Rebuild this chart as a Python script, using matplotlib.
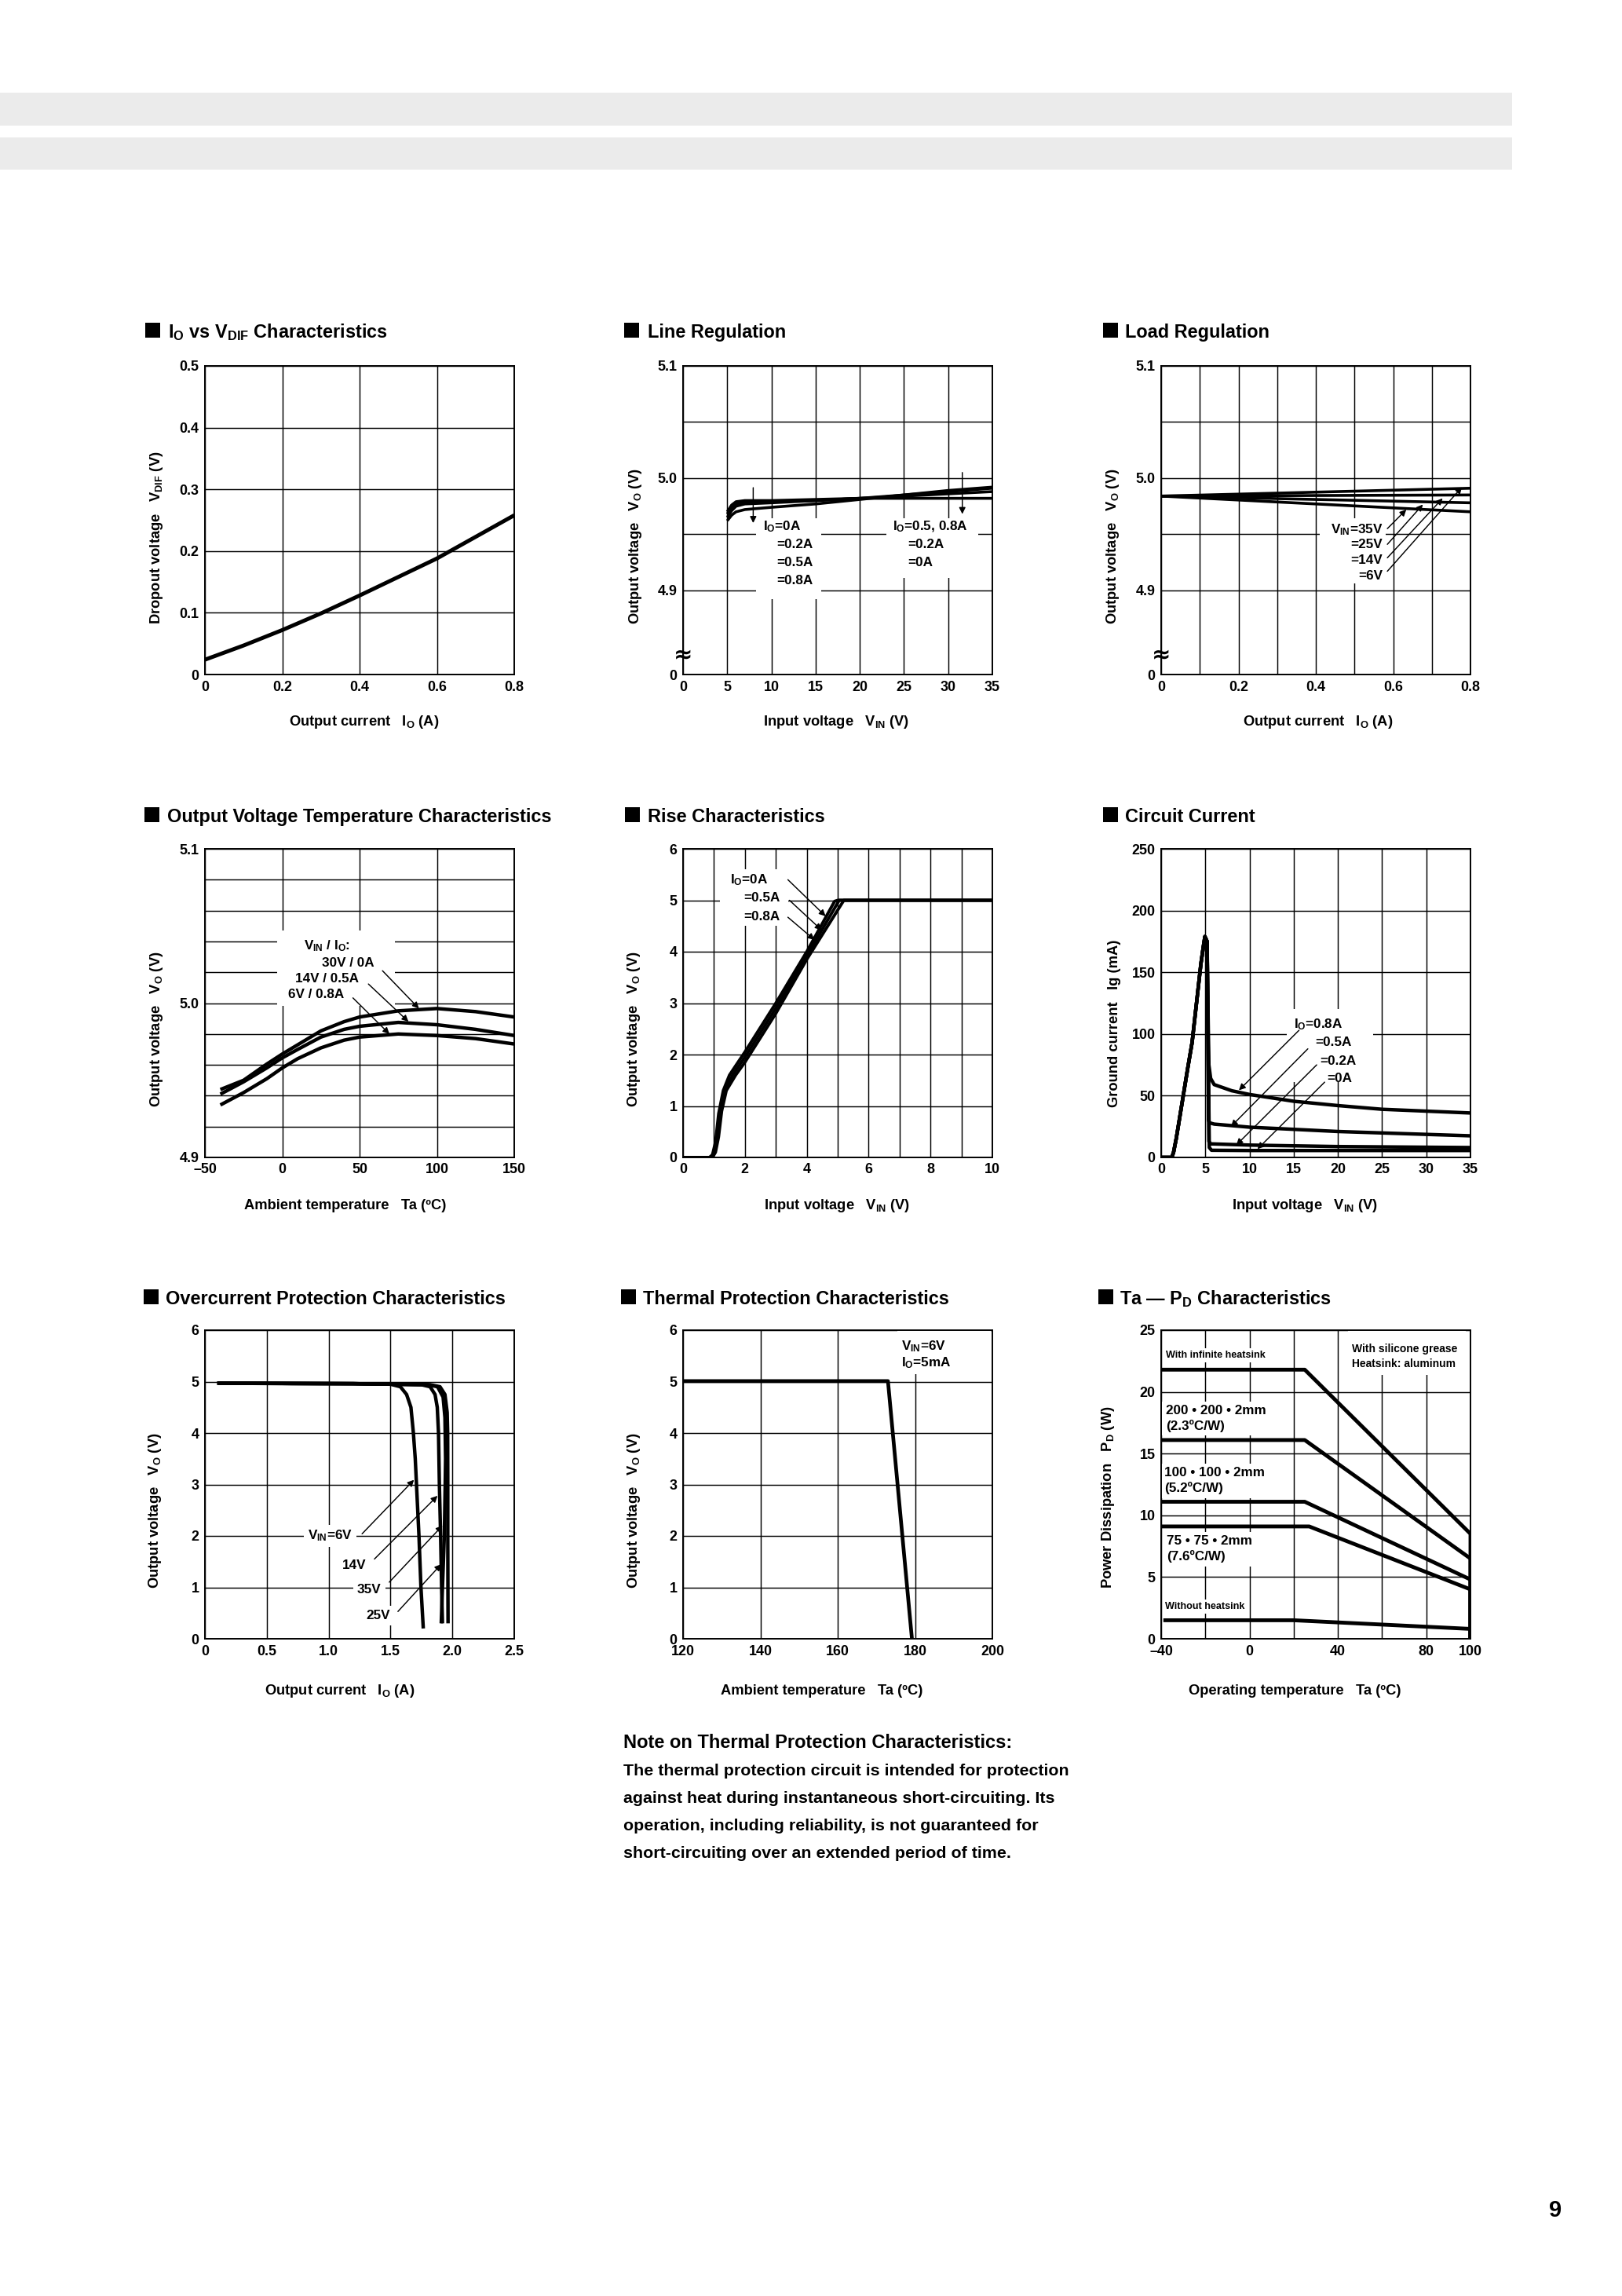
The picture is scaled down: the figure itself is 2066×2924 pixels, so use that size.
#!/usr/bin/env python3

import matplotlib
matplotlib.use('Agg')
import matplotlib.pyplot as plt
from matplotlib.patches import Rectangle
from matplotlib import font_manager

W, H = 2066, 2924
DPI = 100

# ---------------------------------------------------------------- data

# Io vs VDIF
DROP_IO = [0.0, 0.1, 0.2, 0.3, 0.4, 0.5, 0.6, 0.7, 0.8]
DROP_VDIF = [0.024, 0.047, 0.072, 0.099, 0.128, 0.158, 0.188, 0.223, 0.258]

# Line regulation
LINE_VIN = [5, 5.5, 6, 7, 10, 15, 20, 25, 30, 35]
LINE_VO_0A = [4.970, 4.976, 4.979, 4.980, 4.980, 4.981, 4.982, 4.982, 4.982, 4.982]
LINE_VO_02A = [4.968, 4.974, 4.977, 4.979, 4.979, 4.980, 4.982, 4.984, 4.986, 4.988]
LINE_VO_05A = [4.965, 4.971, 4.975, 4.977, 4.978, 4.980, 4.982, 4.985, 4.988, 4.991]
LINE_VO_08A = [4.962, 4.967, 4.970, 4.972, 4.974, 4.977, 4.981, 4.985, 4.989, 4.992]

# Load regulation
LOAD_IO = [0.0, 0.4, 0.8]
LOAD_VO_6V = [4.984, 4.9875, 4.991]
LOAD_VO_14V = [4.984, 4.9845, 4.985]
LOAD_VO_25V = [4.984, 4.981, 4.978]
LOAD_VO_35V = [4.984, 4.977, 4.970]

# Output voltage temperature characteristics
TEMP_TA = [-40, -25, -10, 0, 10, 25, 40, 50, 75, 100, 125, 150]
TEMP_VO_30V = [4.944, 4.950, 4.9605, 4.967, 4.973, 4.982, 4.988, 4.991, 4.995, 4.9965, 4.9945, 4.991]
TEMP_VO_14V = [4.941, 4.949, 4.958, 4.9645, 4.970, 4.978, 4.983, 4.985, 4.9875, 4.986, 4.983, 4.979]
TEMP_VO_6V = [4.934, 4.942, 4.951, 4.958, 4.964, 4.971, 4.976, 4.978, 4.980, 4.979, 4.977, 4.9735]

# Rise characteristics
RISE_VIN_0A = [0, 0.85, 0.95, 1.05, 1.15, 1.3, 1.5, 2, 3, 4, 4.9, 5.0, 10]
RISE_VO_0A = [0, 0, 0.05, 0.3, 0.85, 1.3, 1.6, 2.05, 3.0, 4.0, 4.98, 5.0, 5.0]
RISE_VIN_05A = [0, 0.9, 1.0, 1.1, 1.2, 1.35, 1.6, 2, 3, 4, 5.05, 10]
RISE_VO_05A = [0, 0, 0.1, 0.4, 0.9, 1.3, 1.6, 1.95, 2.9, 3.92, 5.0, 5.0]
RISE_VIN_08A = [0, 0.95, 1.05, 1.15, 1.25, 1.4, 1.7, 2, 3, 4, 5.2, 10]
RISE_VO_08A = [0, 0, 0.1, 0.4, 0.9, 1.3, 1.6, 1.85, 2.8, 3.85, 5.0, 5.0]

# Circuit current (common rise, then one tail per load)
CIRC_RISE_VIN = [0, 1.2, 1.4, 1.7, 2.0, 2.5, 3.0, 3.5, 4.0, 4.5, 4.8, 4.95]
CIRC_RISE_IG = [0, 0, 4, 15, 28, 50, 72, 93, 125, 157, 172, 179]
CIRC_VIN_08A = [5.2, 5.3, 5.4, 5.6, 6, 8, 10, 15, 20, 25, 30, 35]
CIRC_IG_08A = [175, 120, 75, 64, 59, 54, 51, 45.5, 42, 39, 37.5, 36]
CIRC_VIN_05A = [5.2, 5.3, 5.35, 5.5, 6, 10, 20, 35]
CIRC_IG_05A = [175, 100, 30, 28, 27, 24.5, 21, 17.5]
CIRC_VIN_02A = [5.2, 5.3, 5.4, 5.6, 10, 20, 35]
CIRC_IG_02A = [175, 100, 13, 11, 10, 8.8, 8]
CIRC_VIN_0A = [5.2, 5.3, 5.45, 5.7, 10, 35]
CIRC_IG_0A = [175, 100, 8, 5.8, 5.6, 5.6]

# Overcurrent protection
OC_IO_6V = [0.1, 0.7, 1.2, 1.5, 1.58, 1.63, 1.665, 1.685, 1.7, 1.71, 1.73, 1.746, 1.765]
OC_VO_6V = [4.97, 4.96, 4.96, 4.95, 4.9, 4.75, 4.5, 4.0, 3.5, 3.0, 2.0, 1.0, 0.2]
OC_IO_14V = [0.1, 1.2, 1.75, 1.82, 1.86, 1.878, 1.888, 1.895, 1.905, 1.913, 1.92]
OC_VO_14V = [4.97, 4.96, 4.94, 4.9, 4.75, 4.5, 4.0, 3.0, 2.0, 1.0, 0.3]
OC_IO_25V = [0.1, 1.2, 1.8, 1.88, 1.925, 1.94, 1.945, 1.942, 1.935, 1.92, 1.91]
OC_VO_25V = [4.97, 4.96, 4.94, 4.9, 4.7, 4.3, 3.5, 3.0, 2.0, 1.0, 0.3]
OC_IO_35V = [0.1, 1.2, 1.82, 1.9, 1.94, 1.958, 1.962, 1.963, 1.963, 1.964, 1.965]
OC_VO_35V = [4.97, 4.96, 4.94, 4.9, 4.75, 4.4, 4.0, 3.0, 2.0, 1.0, 0.3]

# Thermal protection
THERM_TA = [120, 173, 179.2]
THERM_VO = [5.01, 5.01, 0]

# Ta - PD
PD_TA_INF = [-40, 25, 100, 100]
PD_W_INF = [21.8, 21.8, 8.5, 0]
PD_TA_200 = [-40, 25, 100, 100]
PD_W_200 = [16.1, 16.1, 6.5, 0]
PD_TA_100 = [-40, 25, 100, 100]
PD_W_100 = [11.1, 11.1, 4.8, 0]
PD_TA_75 = [-40, 27, 100, 100]
PD_W_75 = [9.1, 9.1, 4.0, 0]
PD_TA_NONE = [-39, 20, 100, 100]
PD_W_NONE = [1.5, 1.5, 0.8, 0]

NOTE_TITLE = "Note on Thermal Protection Characteristics:"
NOTE_LINES = [
    "The thermal protection circuit is intended for protection",
    "against heat during instantaneous short-circuiting. Its",
    "operation, including reliability, is not guaranteed for",
    "short-circuiting over an extended period of time.",
]

TITLES = [
    r"I$_\mathrm{O}$ vs V$_\mathrm{DIF}$ Characteristics",
    "Line Regulation",
    "Load Regulation",
    "Output Voltage Temperature Characteristics",
    "Rise Characteristics",
    "Circuit Current",
    "Overcurrent Protection Characteristics",
    "Thermal Protection Characteristics",
    r"Ta — P$_\mathrm{D}$ Characteristics",
]

VO_LABEL = r"Output voltage   V$_\mathrm{O}$ (V)"
IO_LABEL = r"Output current   I$_\mathrm{O}$ (A)"
VIN_LABEL = r"Input voltage   V$_\mathrm{IN}$ (V)"
TA_LABEL = "Ambient temperature   Ta (ºC)"

# ---------------------------------------------------------------- layout

AX_LEFT = [261, 870, 1479]
AX_TOP = [466, 1081, 1694]
AX_W, AX_H = 394, 393
TITLE_SQ_X = [185, 795, 1405, 184, 796, 1405, 183, 791, 1399]
TITLE_TX_X = [214, 825, 1433, 213, 825, 1433, 211, 819, 1426]
TITLE_BASE = [430, 1047, 1661]
SQ = 19
XLABEL_DROP = [61, 62, 66]
XLABEL_SHIFT = [6, -2, 3, -18, -1, -14, -25, -20, -27]
YLABEL_GAP = [62, 61, 61, 62, 62, 59, 64, 62, 67]
YLABEL_RISE = 64

TITLE_FS = 16.9
TICK_FS = 12.9
AXLABEL_FS = 13.2
LFS = 12.3

_names = {f.name for f in font_manager.fontManager.ttflist}
NARROW = 'Liberation Sans Narrow' if 'Liberation Sans Narrow' in _names else None

plt.rcParams['font.family'] = ['Liberation Sans', 'DejaVu Sans']
plt.rcParams['font.weight'] = 'bold'
plt.rcParams['mathtext.fontset'] = 'custom'
plt.rcParams['mathtext.rm'] = 'Liberation Sans:bold'
plt.rcParams['mathtext.it'] = 'Liberation Sans:bold'
plt.rcParams['mathtext.bf'] = 'Liberation Sans:bold'
plt.rcParams['mathtext.sf'] = 'Liberation Sans:bold'


def fy(y):
    return 1 - y / H


def make_axes(fig, idx):
    row, col = divmod(idx, 3)
    left, top = AX_LEFT[col], AX_TOP[row]
    ax = fig.add_axes([left / W, fy(top + AX_H), AX_W / W, AX_H / H])
    # title with black square
    base = TITLE_BASE[row]
    fig.add_artist(Rectangle((TITLE_SQ_X[idx] / W, fy(base)), SQ / W, SQ / H,
                             transform=fig.transFigure, facecolor='black',
                             edgecolor='none'))
    fig.text(TITLE_TX_X[idx] / W, fy(base), TITLES[idx], ha='left',
             va='baseline', fontsize=TITLE_FS)
    return ax


def style(ax, xlim, ylim, xt, xtl, yt, ytl):
    ax.set_xlim(*xlim)
    ax.set_ylim(*ylim)
    ax.set_xticks(xt, labels=xtl)
    ax.set_yticks(yt, labels=ytl)
    ax.grid(True, color='black', lw=1.05)
    ax.set_axisbelow(True)
    ax.tick_params(length=0, labelsize=TICK_FS, pad=5.4)
    for sp in ax.spines.values():
        sp.set_linewidth(1.4)


def labels(ax, idx, xlabel, ylabel):
    row = idx // 3
    ax.text(0.5 + XLABEL_SHIFT[idx] / AX_W, -XLABEL_DROP[row] / AX_H, xlabel,
            transform=ax.transAxes, ha='center', va='center',
            fontsize=AXLABEL_FS)
    ax.text(-YLABEL_GAP[idx] / AX_W, YLABEL_RISE / AX_H, ylabel,
            transform=ax.transAxes, rotation=90, ha='center', va='bottom',
            fontsize=AXLABEL_FS)


def arrow(ax, start, tip):
    ax.annotate('', xy=tip, xytext=start, zorder=4,
                arrowprops=dict(arrowstyle='-|>', color='black', lw=1.05,
                                mutation_scale=12, shrinkA=0, shrinkB=0))


def blank(ax, x, y, w, h):
    ax.add_patch(Rectangle((x, y), w, h, facecolor='white', edgecolor='none',
                           zorder=1.5))


def curve(ax, x, y, lw=3.4):
    ax.plot(x, y, color='black', lw=lw, solid_capstyle='butt',
            solid_joinstyle='round', zorder=2)


def lbl(ax, x, y, s, ha='left', **kw):
    ax.text(x, y, s, ha=ha, va='center', fontsize=LFS, zorder=3, **kw)


def steps(lo, hi, step, n):
    return [round(lo + i * step, 6) for i in range(n)]


fig = plt.figure(figsize=(W / DPI, H / DPI), dpi=DPI)
fig.patch.set_facecolor('white')

# header bands
for top, bottom in ((118, 160), (175, 216)):
    fig.add_artist(Rectangle((0, fy(bottom)), 1926 / W, (bottom - top) / H,
                             transform=fig.transFigure, facecolor='#ebebeb',
                             edgecolor='none'))

# 1 ------------------------------------------------ Io vs VDIF
ax = make_axes(fig, 0)
style(ax, (0, 0.8), (0, 0.5),
      steps(0, 0.8, 0.2, 5), ['0', '0.2', '0.4', '0.6', '0.8'],
      steps(0, 0.5, 0.1, 6), ['0', '0.1', '0.2', '0.3', '0.4', '0.5'])
curve(ax, DROP_IO, DROP_VDIF, lw=3.6)
labels(ax, 0, IO_LABEL, r"Dropout voltage   V$_\mathrm{DIF}$ (V)")

# 2 ------------------------------------------------ Line regulation
ax = make_axes(fig, 1)
style(ax, (0, 35), (4.825, 5.1),
      list(range(0, 36, 5)), [str(v) for v in range(0, 36, 5)],
      [4.825, 4.9, 4.95, 5.0, 5.05, 5.1], ['0', '4.9', '', '5.0', '', '5.1'])
blank(ax, 8.3, 4.892, 7.3, 0.072)
blank(ax, 23.0, 4.911, 10.4, 0.053)
for vo in (LINE_VO_0A, LINE_VO_02A, LINE_VO_05A, LINE_VO_08A):
    curve(ax, LINE_VIN, vo, lw=2.6)
lbl(ax, 9.05, 4.9567, r'I$_\mathrm{O}$=0A')
lbl(ax, 10.57, 4.9405, '=0.2A')
lbl(ax, 10.57, 4.9248, '=0.5A')
lbl(ax, 10.57, 4.9086, '=0.8A')
lbl(ax, 23.75, 4.9567, r'I$_\mathrm{O}$=0.5, 0.8A')
lbl(ax, 25.4, 4.9405, '=0.2A')
lbl(ax, 25.4, 4.9248, '=0A')
arrow(ax, (7.94, 4.9915), (7.94, 4.960))
arrow(ax, (31.6, 5.005), (31.6, 4.968))
ax.text(0, 4.842, '≈', ha='center', va='center', fontsize=21, zorder=5,
        clip_on=False, family='DejaVu Sans')
labels(ax, 1, VIN_LABEL, VO_LABEL)

# 3 ------------------------------------------------ Load regulation
ax = make_axes(fig, 2)
style(ax, (0, 0.8), (4.825, 5.1),
      steps(0, 0.8, 0.1, 9), ['0', '', '0.2', '', '0.4', '', '0.6', '', '0.8'],
      [4.825, 4.9, 4.95, 5.0, 5.05, 5.1], ['0', '4.9', '', '5.0', '', '5.1'])
blank(ax, 0.41, 4.906, 0.17, 0.058)
for vo in (LOAD_VO_6V, LOAD_VO_14V, LOAD_VO_25V, LOAD_VO_35V):
    curve(ax, LOAD_IO, vo, lw=2.6)
lbl(ax, 0.5726, 4.954, r'V$_\mathrm{IN}$=35V', ha='right')
lbl(ax, 0.5726, 4.9405, '=25V', ha='right')
lbl(ax, 0.5726, 4.927, '=14V', ha='right')
lbl(ax, 0.5726, 4.913, '=6V', ha='right')
arrow(ax, (0.585, 4.955), (0.634, 4.972))
arrow(ax, (0.585, 4.941), (0.677, 4.9765))
arrow(ax, (0.585, 4.929), (0.728, 4.982))
arrow(ax, (0.585, 4.917), (0.778, 4.992))
ax.text(0, 4.842, '≈', ha='center', va='center', fontsize=21, zorder=5,
        clip_on=False, family='DejaVu Sans')
labels(ax, 2, IO_LABEL, VO_LABEL)

# 4 ------------------------------------------------ Output voltage vs temperature
ax = make_axes(fig, 3)
ylab4 = ['4.9'] + [''] * 4 + ['5.0'] + [''] * 4 + ['5.1']
style(ax, (-50, 150), (4.9, 5.1),
      [-50, 0, 50, 100, 150], ['–50', '0', '50', '100', '150'],
      steps(4.9, 5.1, 0.02, 11), ylab4)
blank(ax, -3.2, 4.998, 76.2, 0.049)
for vo in (TEMP_VO_30V, TEMP_VO_14V, TEMP_VO_6V):
    curve(ax, TEMP_TA, vo, lw=3.2)
lbl(ax, 14, 5.037, r'V$_\mathrm{IN}$ / I$_\mathrm{O}$:')
lbl(ax, 25.4, 5.026, '30V / 0A')
lbl(ax, 8.6, 5.016, '14V / 0.5A')
lbl(ax, 3.7, 5.0055, '6V / 0.8A')
arrow(ax, (64.8, 5.021), (88.4, 4.9965))
arrow(ax, (55.7, 5.0124), (81.6, 4.988))
arrow(ax, (45.7, 5.0034), (69.3, 4.980))
labels(ax, 3, TA_LABEL, VO_LABEL)

# 5 ------------------------------------------------ Rise characteristics
ax = make_axes(fig, 4)
style(ax, (0, 10), (0, 6),
      list(range(11)), ['0', '', '2', '', '4', '', '6', '', '8', '', '10'],
      list(range(7)), [str(v) for v in range(7)])
blank(ax, 1.2, 4.5, 2.2, 1.1)
curve(ax, RISE_VIN_0A, RISE_VO_0A, lw=2.8)
curve(ax, RISE_VIN_05A, RISE_VO_05A, lw=2.8)
curve(ax, RISE_VIN_08A, RISE_VO_08A, lw=2.8)
lbl(ax, 1.52, 5.40, r'I$_\mathrm{O}$=0A')
lbl(ax, 1.95, 5.04, '=0.5A')
lbl(ax, 1.95, 4.68, '=0.8A')
arrow(ax, (3.39, 5.40), (4.61, 4.69))
arrow(ax, (3.44, 5.0), (4.48, 4.42))
arrow(ax, (3.39, 4.67), (4.25, 4.23))
labels(ax, 4, VIN_LABEL, VO_LABEL)

# 6 ------------------------------------------------ Circuit current
ax = make_axes(fig, 5)
style(ax, (0, 35), (0, 250),
      list(range(0, 36, 5)), [str(v) for v in range(0, 36, 5)],
      list(range(0, 251, 50)), [str(v) for v in range(0, 251, 50)])
blank(ax, 14.2, 61, 9.8, 59)
for vin, ig in ((CIRC_VIN_08A, CIRC_IG_08A), (CIRC_VIN_05A, CIRC_IG_05A),
                (CIRC_VIN_02A, CIRC_IG_02A), (CIRC_VIN_0A, CIRC_IG_0A)):
    curve(ax, CIRC_RISE_VIN + vin, CIRC_RISE_IG + ig, lw=3.2)
lbl(ax, 15.0, 108, r'I$_\mathrm{O}$=0.8A')
lbl(ax, 17.4, 93, '=0.5A')
lbl(ax, 18.0, 78, '=0.2A')
lbl(ax, 18.8, 64, '=0A')
arrow(ax, (15.6, 103), (8.8, 54.4))
arrow(ax, (16.6, 88), (7.9, 25))
arrow(ax, (17.6, 75), (8.5, 10))
arrow(ax, (18.5, 61), (10.9, 6.8))
labels(ax, 5, VIN_LABEL, r"Ground current   Ig (mA)")

# 7 ------------------------------------------------ Overcurrent protection
ax = make_axes(fig, 6)
style(ax, (0, 2.5), (0, 6),
      steps(0, 2.5, 0.5, 6), ['0', '0.5', '1.0', '1.5', '2.0', '2.5'],
      list(range(7)), [str(v) for v in range(7)])
for io, vo in ((OC_IO_6V, OC_VO_6V), (OC_IO_14V, OC_VO_14V),
               (OC_IO_25V, OC_VO_25V), (OC_IO_35V, OC_VO_35V)):
    curve(ax, io, vo, lw=3.2)
wbox = dict(boxstyle='square,pad=0.3', facecolor='white', edgecolor='none')
ax.text(0.834, 2.0, r'V$_\mathrm{IN}$=6V', ha='left', va='center',
        fontsize=LFS, zorder=1.5, bbox=wbox)
ax.text(1.107, 1.43, '14V', ha='left', va='center', fontsize=LFS,
        zorder=1.5, bbox=wbox)
ax.text(1.23, 0.95, '35V', ha='left', va='center', fontsize=LFS,
        zorder=1.5, bbox=wbox)
ax.text(1.30, 0.45, '25V', ha='left', va='center', fontsize=LFS,
        zorder=1.5, bbox=wbox)
arrow(ax, (1.27, 2.04), (1.69, 3.09))
arrow(ax, (1.37, 1.55), (1.88, 2.78))
arrow(ax, (1.49, 1.1), (1.92, 2.2))
arrow(ax, (1.56, 0.53), (1.91, 1.45))
labels(ax, 6, IO_LABEL, VO_LABEL)

# 8 ------------------------------------------------ Thermal protection
ax = make_axes(fig, 7)
style(ax, (120, 200), (0, 6),
      [120, 140, 160, 180, 200], ['120', '140', '160', '180', '200'],
      list(range(7)), [str(v) for v in range(7)])
blank(ax, 175.5, 5.15, 24.0, 0.85)
curve(ax, THERM_TA, THERM_VO, lw=3.4)
lbl(ax, 176.5, 5.68, r'V$_\mathrm{IN}$=6V')
lbl(ax, 176.5, 5.36, r'I$_\mathrm{O}$=5mA')
labels(ax, 7, TA_LABEL, VO_LABEL)

# 9 ------------------------------------------------ Ta - PD
ax = make_axes(fig, 8)
style(ax, (-40, 100), (0, 25),
      list(range(-40, 101, 20)), ['–40', '', '0', '', '40', '', '80', '100'],
      list(range(0, 26, 5)), [str(v) for v in range(0, 26, 5)])
blank(ax, 44.6, 21.4, 53.1, 3.6)
for ta, pd in ((PD_TA_INF, PD_W_INF), (PD_TA_200, PD_W_200),
               (PD_TA_100, PD_W_100), (PD_TA_75, PD_W_75),
               (PD_TA_NONE, PD_W_NONE)):
    curve(ax, ta, pd, lw=3.5)
small = dict(family=NARROW, fontsize=11.1) if NARROW else dict(fontsize=9.1)
wbox9 = dict(boxstyle='square,pad=0.25', facecolor='white', edgecolor='none')
ax.text(-38, 22.96, 'With infinite heatsink', ha='left', va='center',
        zorder=1.5, bbox=wbox9, **small)
ax.text(-38.3, 2.6, 'Without heatsink', ha='left', va='center',
        zorder=1.5, bbox=wbox9, **small)
ax.text(46.5, 23.46, 'With silicone grease', ha='left', va='center',
        fontsize=10, zorder=3)
ax.text(46.5, 22.28, 'Heatsink: aluminum', ha='left', va='center',
        fontsize=10, zorder=3)
ax.text(-38, 17.85, '200 • 200 • 2mm\n(2.3ºC/W)', ha='left', va='center',
        fontsize=LFS, linespacing=1.3, zorder=1.5, bbox=wbox9)
ax.text(-38.7, 12.8, '100 • 100 • 2mm\n(5.2ºC/W)', ha='left', va='center',
        fontsize=LFS, linespacing=1.3, zorder=1.5, bbox=wbox9)
ax.text(-37.5, 7.26, '75 • 75 • 2mm\n(7.6ºC/W)', ha='left', va='center',
        fontsize=LFS, linespacing=1.3, zorder=1.5, bbox=wbox9)
labels(ax, 8, "Operating temperature   Ta (ºC)",
       r"Power Dissipation   P$_\mathrm{D}$ (W)")

# ---------------------------------------------------------------- note
fig.text(794 / W, fy(2226), NOTE_TITLE, ha='left', va='baseline',
         fontsize=17)
body = dict(family=NARROW, fontsize=18.8) if NARROW else dict(fontsize=15.4)
for i, line in enumerate(NOTE_LINES):
    fig.text(794 / W, fy(2261 + i * 35), line, ha='left', va='baseline',
             **body)

# page number
fig.text(1981 / W, fy(2823), '9', ha='center', va='baseline', fontsize=21)

fig.savefig('out.png', dpi=DPI)
